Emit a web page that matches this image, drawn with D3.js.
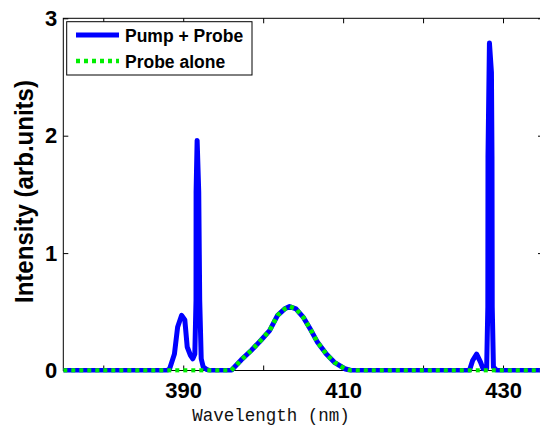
<!DOCTYPE html>
<html><head><meta charset="utf-8">
<script src="https://cdn.jsdelivr.net/npm/d3@7"></script>
<style>body{margin:0;background:#fff}svg{display:block}</style>
</head><body>
<svg id="c" width="540" height="426"></svg>
<script>
// ---- data ----
const pumpProbeWl = [375, 388.0, 388.3, 388.9, 389.3, 389.8, 390.2, 390.5, 390.9, 391.2, 391.45, 391.6, 391.61, 391.74, 391.94, 392.06, 392.25, 392.5, 392.9, 393.3,
  396, 397.25, 398.5, 399.75, 400.8, 401.8, 402.7, 403.3, 404.1, 405, 406, 406.8, 407.9, 408.9, 410.2, 411,
  425.8, 426.2, 426.7, 427.2, 427.5, 427.95, 428.1, 428.12, 428.3, 428.55, 428.62, 428.65, 428.8, 429.2, 435];
const pumpProbeVal = [0, 0, 0.015, 0.14, 0.37, 0.47, 0.43, 0.2, 0.13, 0.1, 0.14, 0.6, 1.52, 1.96, 1.52, 0.6, 0.1, 0.03, 0.01, 0,
  0, 0.09, 0.17, 0.26, 0.34, 0.47, 0.525, 0.545, 0.525, 0.455, 0.34, 0.24, 0.14, 0.07, 0.015, 0,
  0, 0.085, 0.14, 0.07, 0.015, 0.015, 0.54, 1.82, 2.79, 2.54, 1.82, 0.54, 0.03, 0, 0];
const probeAloneWl = [375, 396, 397.25, 398.5, 399.75, 400.8, 401.8, 402.7, 403.3, 404.1, 405, 406, 406.8, 407.9, 408.9, 410.2, 411, 435];
const probeAloneVal = [0, 0, 0.09, 0.17, 0.26, 0.34, 0.47, 0.525, 0.545, 0.525, 0.455, 0.34, 0.24, 0.14, 0.07, 0.015, 0, 0];
const xTicks = [380, 390, 400, 410, 420, 430];
const xTickLabels = [390, 410, 430];
const yTicks = [0, 1, 2, 3];
const seriesNames = ["Pump + Probe", "Probe alone"];
const xTitle = "Wavelength (nm)";
const yTitle = "Intensity (arb.units)";

// ---- layout ----
const L = 63.3, R = 543, T = 18.3, B = 370.5;
const svg = d3.select("#c");
const x = d3.scaleLinear().domain([375, 435]).range([L, R]);
const y = d3.scaleLinear().domain([0, 3]).range([B, T]);

// frame
svg.append("rect").attr("x", L).attr("y", T).attr("width", R - L).attr("height", B - T)
  .attr("fill", "none").attr("stroke", "#000").attr("stroke-width", 1);

const tickFont = "'Liberation Sans', Arial, sans-serif";
const xb = d3.axisBottom(x).tickValues(xTicks).tickSizeInner(-5).tickSizeOuter(0)
  .tickPadding(12).tickFormat(d => xTickLabels.includes(d) ? d : "");
const gxb = svg.append("g").attr("transform", `translate(0,${B})`).call(xb);
const xt = d3.axisTop(x).tickValues(xTicks).tickSizeInner(-5).tickSizeOuter(0).tickFormat("");
const gxt = svg.append("g").attr("transform", `translate(0,${T})`).call(xt);
const yl = d3.axisLeft(y).tickValues(yTicks).tickSizeInner(-5).tickSizeOuter(0).tickPadding(6).tickFormat(d3.format("d"));
const gyl = svg.append("g").attr("transform", `translate(${L},0)`).call(yl);
const yr = d3.axisRight(y).tickValues(yTicks).tickSizeInner(-5).tickSizeOuter(0).tickFormat("");
const gyr = svg.append("g").attr("transform", `translate(${R},0)`).call(yr);
[gxb, gxt, gyl, gyr].forEach(g => {
  g.select(".domain").remove();
  g.selectAll(".tick line").attr("stroke", "#000");
  g.selectAll("text").attr("font-family", tickFont).attr("font-weight", "bold")
    .attr("font-size", 22).attr("fill", "#000");
});
gxb.selectAll("text").attr("dy", "0.71em");

// lines
const line = d3.line().x(d => x(d[0])).y(d => y(d[1]));
const pp = pumpProbeWl.map((w, i) => [w, pumpProbeVal[i]]);
const pa = probeAloneWl.map((w, i) => [w, probeAloneVal[i]]);
svg.append("clipPath").attr("id", "clp").append("rect")
  .attr("x", L).attr("y", T - 10).attr("width", R - L).attr("height", B - T + 12);
svg.append("path").datum(pp).attr("d", line).attr("fill", "none")
  .attr("stroke", "#0000ff").attr("stroke-width", 5).attr("stroke-linejoin", "round")
  .attr("clip-path", "url(#clp)");
svg.append("path").datum(pa).attr("d", line).attr("fill", "none")
  .attr("stroke", "#00ee00").attr("stroke-width", 4.5).attr("stroke-dasharray", "4,4")
  .attr("clip-path", "url(#clp)");

// legend
const lg = svg.append("g");
lg.append("rect").attr("x", 66.7).attr("y", 21.7).attr("width", 185.3).attr("height", 53.3)
  .attr("fill", "#fff").attr("stroke", "#000").attr("stroke-width", 1);
lg.append("line").attr("x1", 76).attr("x2", 119).attr("y1", 35).attr("y2", 35)
  .attr("stroke", "#0000ff").attr("stroke-width", 5);
lg.append("line").attr("x1", 76).attr("x2", 119).attr("y1", 61).attr("y2", 61)
  .attr("stroke", "#00ee00").attr("stroke-width", 4.5).attr("stroke-dasharray", "4,4");
lg.selectAll("text.lg").data(seriesNames).join("text").attr("class", "lg")
  .attr("x", 125).attr("y", (d, i) => 42 + i * 25.5)
  .attr("font-family", tickFont).attr("font-weight", "bold").attr("font-size", 17.5)
  .attr("fill", "#000").text(d => d);

// axis titles
svg.append("text").attr("x", 271).attr("y", 421).attr("text-anchor", "middle")
  .attr("font-family", "'Liberation Mono', 'DejaVu Sans Mono', monospace")
  .attr("font-size", 17.5).attr("fill", "#111").text(xTitle);
svg.append("text").attr("transform", "translate(33,191.5) rotate(-90)").attr("text-anchor", "middle")
  .attr("font-family", tickFont).attr("font-weight", "bold").attr("font-size", 25)
  .attr("textLength", 223).attr("lengthAdjust", "spacingAndGlyphs")
  .attr("fill", "#000").text(yTitle);
</script>
</body></html>
